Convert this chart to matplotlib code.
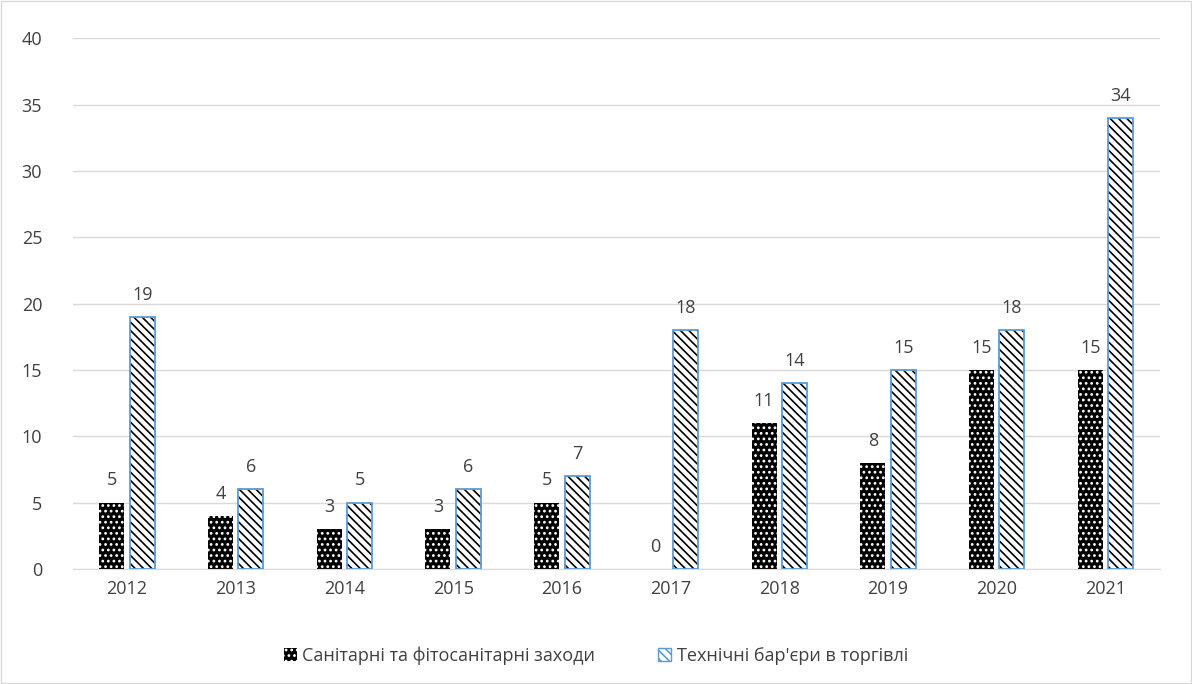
import matplotlib.pyplot as plt
import numpy as np
from matplotlib.patches import Patch

# дані
years = ['2012', '2013', '2014', '2015', '2016', '2017', '2018', '2019', '2020', '2021']
sps = [5, 4, 3, 3, 5, 0, 11, 8, 15, 15]
tbt = [19, 6, 5, 6, 7, 18, 14, 15, 18, 34]
labels = ['Санітарні та фітосанітарні заходи', 'Технічні бар\'єри в торгівлі']

plt.rcParams['font.family'] = ['Open Sans', 'DejaVu Sans']
plt.rcParams['hatch.linewidth'] = 1.2

fig = plt.figure(figsize=(11.92, 6.84), dpi=100)
ax = fig.add_axes([0.061, 0.168, 0.912, 0.776])

x = np.arange(len(years))
w = 0.23
off = 0.14
fs = 13

# чорні стовпчики з білим візерунком
ax.bar(x - off, sps, w, color='black', linewidth=0, zorder=2)
ax.bar(x - off, sps, w, facecolor='none', edgecolor='white', hatch='...', linewidth=0, zorder=3)

# заштриховані стовпчики з синьою рамкою
ax.bar(x + off, tbt, w, facecolor='white', edgecolor='black', hatch='\\\\\\\\', linewidth=0, zorder=2)
ax.bar(x + off, tbt, w, facecolor='none', edgecolor='#5B9BD5', linewidth=1.3, zorder=3)

for i in range(len(years)):
    ax.text(x[i] - off, sps[i] + 1.0, str(sps[i]), ha='center', va='bottom', fontsize=fs, color='#404040')
    ax.text(x[i] + off, tbt[i] + 1.0, str(tbt[i]), ha='center', va='bottom', fontsize=fs, color='#404040')

ax.set_xlim(-0.5, len(years) - 0.5)
ax.set_ylim(0, 40)
ax.set_yticks(range(0, 41, 5))
ax.set_xticks(x)
ax.set_xticklabels(years)
ax.tick_params(axis='both', length=0, labelsize=fs, labelcolor='#404040')
ax.tick_params(axis='y', pad=22)
ax.tick_params(axis='x', pad=8)
ax.grid(axis='y', color='#D9D9D9', linewidth=1, zorder=0)
ax.set_axisbelow(True)
for s in ['top', 'right', 'left']:
    ax.spines[s].set_visible(False)
ax.spines['bottom'].set_color('#D9D9D9')

# легенда
h1 = Patch(facecolor='black', edgecolor='white', hatch='...', linewidth=0)
h2 = Patch(facecolor='white', edgecolor='#5B9BD5', hatch='\\\\\\\\', linewidth=1)
leg = fig.legend([h1, h2], labels, loc='center', bbox_to_anchor=(0.5, 0.042), ncol=2,
                 frameon=False, fontsize=fs, handlelength=0.7, handleheight=0.7,
                 handletextpad=0.3, columnspacing=3.5)
for t in leg.get_texts():
    t.set_color('#404040')

# рамка навколо рисунка
fig.patches.append(plt.Rectangle((0.001, 0.001), 0.998, 0.998, transform=fig.transFigure,
                                 fill=False, edgecolor='#D9D9D9', linewidth=1))

fig.savefig('out.png', dpi=100)
